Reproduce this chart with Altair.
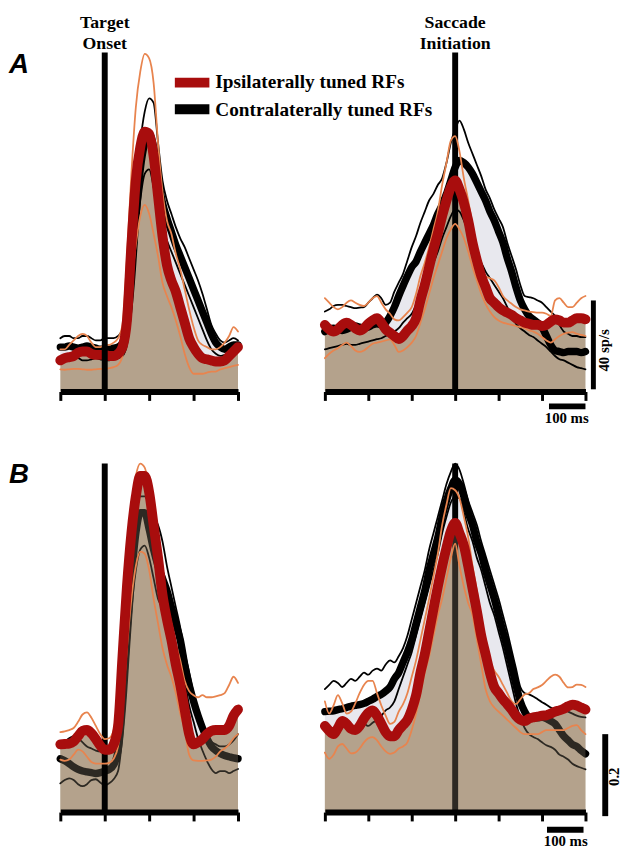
import altair as alt
import pandas as pd

# ---------------- data ----------------
T_ONSET = list(range(-100, 301, 10))   # ms from target onset
T_SACC = list(range(-300, 301, 10))    # ms from saccade initiation

# Panel A, target onset (sp/s)
A_ON_IPSI = [14, 15, 15.5, 16, 17.5, 18, 18, 17, 16.5, 16.5, 16.5, 16, 16, 17, 20, 32, 66, 95, 110, 117, 116,
             106, 88, 70, 57, 50, 45, 38, 31, 24, 20, 17, 15, 14.5, 14, 13.5, 13.5, 14, 16, 18, 20]
A_ON_IPSI_HI = [19, 19, 21, 23, 25, 26, 25, 22, 20, 20, 21, 21, 22, 24, 30, 60, 98, 128, 144, 152, 150,
                139, 112, 90, 77, 71, 62, 55, 46, 37, 29, 23, 21, 20, 19, 19, 20, 22, 25, 29, 27]
A_ON_IPSI_LO = [10, 9.8, 10, 10.2, 10.2, 10, 9.8, 9.8, 10, 10.2, 10, 10.5, 11, 12, 16, 28, 48, 66, 79, 84, 80,
                71, 61, 49, 43, 38, 32, 25, 17, 11, 8, 8, 8, 8.5, 9, 9, 10, 10.5, 11, 11.5, 12]
A_ON_CON = [20, 20, 20.5, 20, 19.5, 20, 20.5, 20, 19.5, 19, 19, 19, 19.5, 20, 22, 30, 50, 78, 100, 112, 116,
            110, 96, 85, 78, 72, 66, 61, 56, 51, 46, 41, 36, 31, 26, 22, 20, 19, 20, 21, 21]
A_ON_CON_HI = [24, 25, 25, 24, 24, 25, 25, 24, 23, 23, 24, 24, 24, 25, 28, 40, 62, 90, 112, 126, 132,
               130, 112, 95, 86, 80, 74, 69, 65, 60, 55, 50, 44, 37, 30, 26, 23, 22, 23, 24, 23]
A_ON_CON_LO = [15, 14, 14.5, 15, 15, 14, 14, 14.5, 15, 14.5, 14, 14, 14.5, 15, 16, 21, 38, 64, 86, 98, 100,
               92, 80, 74, 68, 63, 58, 53, 48, 43, 38, 33, 28, 23, 19, 17, 16, 16.5, 17, 18, 18]

# Panel A, saccade initiation (sp/s)
A_SA_IPSI = [30, 28, 27, 28, 30, 31, 30, 28.5, 27.5, 28.5,
             30.5, 32, 33, 31, 28, 26.5, 25, 23.6, 25, 27.5,
             29.5, 33, 41, 48, 56, 64, 71, 79, 86, 92,
             95,
             91, 85, 77, 67, 59, 52, 47, 42, 40, 38,
             36.5, 35.5, 34.5, 33, 32, 31, 30.5, 30, 30, 29.5,
             30, 31.5, 32.5, 32, 31, 31, 32, 33, 33, 32.5]
A_SA_IPSI_HI = [42, 40, 38, 37, 38, 40, 41, 40, 39, 38.5,
                40, 42, 43, 40, 37, 35, 32.5, 32, 33.5, 35.5,
                38, 44, 52, 58, 65, 73, 81, 93, 103, 113,
                115,
                108, 96, 86, 75, 64, 56, 52, 51, 50, 47,
                43, 41, 39.5, 38, 37, 36.5, 36, 35.8, 35.5, 35.5,
                35, 34, 41, 42, 40, 38, 38, 40, 42, 43]
A_SA_IPSI_LO = [15, 17, 18.5, 19.5, 21, 22, 20.5, 18.5, 17.8, 18.5,
                20, 21.5, 22, 22.5, 23, 23.5, 21, 17.8, 18.5, 20,
                22, 25, 31, 37, 44, 51, 57, 63, 69, 73,
                75.5,
                73, 69, 63, 56, 50, 44, 39.5, 36, 33.5, 32,
                31, 30.5, 30, 29.5, 29, 28.5, 27.5, 27, 26, 24.5,
                23, 22, 23.5, 25, 26, 26.5, 26.7, 26, 25.5, 25]
A_SA_CON = [27, 28, 28.5, 28, 27.5, 28, 29, 29.5, 29, 28.5,
            29, 30, 30.5, 30, 31, 34, 38, 43, 47.6, 52,
            56, 58.5, 63, 67, 71, 75, 80, 84, 89, 95,
            101,
            104, 103, 101, 98, 94, 90, 86, 81, 77, 72,
            67, 60, 54, 47, 41, 37, 34, 32.5, 31, 29,
            25, 21, 18.5, 18, 17.5, 18, 18, 18, 17.5, 18]
A_SA_CON_HI = [36, 37, 38.5, 39, 39, 38.5, 38, 37.5, 37.8, 38,
               40, 42, 43.6, 42, 39, 40, 45, 49, 53, 59,
               65, 70, 76, 81, 86, 89, 93, 96, 103, 112,
               118,
               122, 118, 112, 107, 102, 97, 91, 87, 82, 78,
               74, 67, 61, 55, 48, 43, 42.5, 42, 41, 40,
               38, 36, 34, 30, 27, 26, 25, 25, 24.5, 24.5]
A_SA_CON_LO = [19, 19.5, 20, 20.5, 21, 21.5, 21, 21, 21.5, 22,
               22.5, 23, 23.6, 24, 25, 26, 27, 28.5, 31, 33,
               35, 39, 44, 48, 53, 58, 63, 69, 74, 79,
               82,
               81, 77, 72, 67, 62, 58, 54, 51, 48, 45,
               42, 38, 34, 30.5, 28.5, 27, 25.5, 24.5, 23, 21.5,
               20, 18, 16, 14.5, 14, 13, 12, 11, 10.5, 10]

# Panel B, target onset (normalized)
B_ON_IPSI = [0.165, 0.166, 0.167, 0.172, 0.185, 0.198, 0.2, 0.192, 0.178, 0.162,
             0.152,
             0.152, 0.165, 0.21, 0.38, 0.55, 0.68, 0.77, 0.82, 0.82, 0.78,
             0.7, 0.62, 0.53, 0.47, 0.42, 0.36, 0.31, 0.25, 0.19, 0.165,
             0.17, 0.178, 0.19, 0.198, 0.2, 0.2, 0.2, 0.21, 0.235, 0.25]
B_ON_IPSI_HI = [0.195, 0.197, 0.2, 0.205, 0.22, 0.238, 0.243, 0.23, 0.21, 0.19,
                0.178,
                0.18, 0.2, 0.28, 0.45, 0.62, 0.74, 0.82, 0.85, 0.84, 0.79,
                0.72, 0.64, 0.57, 0.51, 0.46, 0.41, 0.37, 0.32, 0.295, 0.285,
                0.28, 0.285, 0.28, 0.28, 0.282, 0.285, 0.29, 0.31, 0.33, 0.315]
B_ON_IPSI_LO = [0.128, 0.125, 0.128, 0.14, 0.152, 0.148, 0.135, 0.122, 0.118, 0.118,
                0.118,
                0.12, 0.13, 0.16, 0.26, 0.4, 0.52, 0.6, 0.635, 0.63, 0.59,
                0.52, 0.46, 0.4, 0.36, 0.33, 0.29, 0.24, 0.2, 0.14, 0.126,
                0.125, 0.125, 0.126, 0.128, 0.135, 0.148, 0.155, 0.165, 0.18, 0.19]
B_ON_CON = [0.13, 0.125, 0.118, 0.11, 0.104, 0.1, 0.098, 0.096, 0.094, 0.096,
            0.1,
            0.104, 0.115, 0.15, 0.26, 0.42, 0.57, 0.68, 0.73, 0.73, 0.69,
            0.64, 0.6, 0.57, 0.54, 0.5, 0.46, 0.42, 0.36, 0.31, 0.27,
            0.235, 0.205, 0.18, 0.16, 0.15, 0.143, 0.138, 0.135, 0.132, 0.13]
B_ON_CON_HI = [0.17, 0.172, 0.18, 0.185, 0.18, 0.17, 0.16, 0.155, 0.15, 0.148,
               0.15,
               0.155, 0.17, 0.21, 0.33, 0.5, 0.64, 0.74, 0.77, 0.77, 0.75,
               0.72, 0.7, 0.66, 0.6, 0.55, 0.5, 0.45, 0.39, 0.34, 0.29,
               0.25, 0.22, 0.19, 0.172, 0.165, 0.16, 0.16, 0.165, 0.175, 0.19]
B_ON_CON_LO = [0.07, 0.078, 0.082, 0.078, 0.068, 0.063, 0.068, 0.078, 0.08, 0.072,
               0.065,
               0.07, 0.08, 0.1, 0.19, 0.34, 0.49, 0.59, 0.64, 0.65, 0.62,
               0.57, 0.52, 0.5, 0.48, 0.45, 0.41, 0.37, 0.32, 0.26, 0.22,
               0.18, 0.15, 0.125, 0.105, 0.095, 0.1, 0.1, 0.095, 0.1, 0.105]

# Panel B, saccade initiation (normalized)
B_SA_IPSI = [0.21, 0.198, 0.19, 0.205, 0.222, 0.215, 0.203, 0.2, 0.21, 0.228,
             0.242, 0.248, 0.235, 0.215, 0.195, 0.185, 0.185, 0.2, 0.212, 0.225,
             0.25, 0.285, 0.34, 0.385, 0.44, 0.495, 0.55, 0.6, 0.645, 0.685,
             0.705,
             0.68, 0.65, 0.6, 0.545, 0.49, 0.43, 0.385, 0.34, 0.305, 0.29,
             0.275, 0.263, 0.25, 0.235, 0.225, 0.222, 0.228, 0.231, 0.233, 0.235,
             0.236, 0.24, 0.245, 0.248, 0.252, 0.258, 0.262, 0.26, 0.255, 0.25]
B_SA_IPSI_HI = [0.27, 0.24, 0.26, 0.285, 0.265, 0.24, 0.245, 0.265, 0.29, 0.31,
                0.32, 0.32, 0.29, 0.26, 0.235, 0.215, 0.22, 0.245, 0.263, 0.29,
                0.33, 0.37, 0.42, 0.47, 0.52, 0.575, 0.63, 0.7, 0.75, 0.79,
                0.785,
                0.765, 0.72, 0.67, 0.6, 0.54, 0.47, 0.42, 0.37, 0.345, 0.33,
                0.31, 0.29, 0.27, 0.263, 0.275, 0.287, 0.29, 0.3, 0.304, 0.31,
                0.32, 0.33, 0.335, 0.33, 0.315, 0.304, 0.305, 0.311, 0.31, 0.305]
B_SA_IPSI_LO = [0.145, 0.13, 0.14, 0.16, 0.166, 0.155, 0.143, 0.145, 0.155, 0.17,
                0.18, 0.183, 0.175, 0.16, 0.148, 0.142, 0.145, 0.155, 0.16, 0.17,
                0.2, 0.24, 0.29, 0.34, 0.38, 0.43, 0.48, 0.52, 0.57, 0.62,
                0.655,
                0.6, 0.55, 0.51, 0.48, 0.42, 0.36, 0.3, 0.27, 0.255, 0.245,
                0.235, 0.225, 0.215, 0.205, 0.195, 0.19, 0.19, 0.19, 0.19, 0.195,
                0.2, 0.2, 0.2, 0.2, 0.2, 0.205, 0.21, 0.212, 0.2, 0.19]
B_SA_CON = [0.245, 0.246, 0.247, 0.25, 0.252, 0.255, 0.258, 0.26, 0.262, 0.265,
            0.27, 0.275, 0.282, 0.287, 0.295, 0.305, 0.325, 0.34, 0.365, 0.39,
            0.42, 0.46, 0.5, 0.54, 0.59, 0.63, 0.67, 0.72, 0.76, 0.79,
            0.81,
            0.8, 0.77, 0.73, 0.7, 0.66, 0.63, 0.59, 0.555, 0.52, 0.48,
            0.44, 0.4, 0.355, 0.31, 0.27, 0.245, 0.232, 0.23, 0.23, 0.231,
            0.228, 0.222, 0.215, 0.2, 0.185, 0.175, 0.165, 0.16, 0.15, 0.142]
B_SA_CON_HI = [0.3, 0.31, 0.32, 0.315, 0.305, 0.315, 0.325, 0.32, 0.33, 0.34,
               0.335, 0.345, 0.35, 0.345, 0.36, 0.37, 0.365, 0.38, 0.4, 0.43,
               0.47, 0.51, 0.55, 0.59, 0.64, 0.68, 0.72, 0.76, 0.8, 0.83,
               0.85,
               0.835, 0.8, 0.76, 0.73, 0.7, 0.66, 0.625, 0.59, 0.555, 0.52,
               0.48, 0.44, 0.395, 0.35, 0.305, 0.29, 0.287, 0.282, 0.275, 0.268,
               0.262, 0.255, 0.25, 0.248, 0.25, 0.245, 0.24, 0.235, 0.232, 0.231]
B_SA_CON_LO = [0.2, 0.198, 0.2, 0.205, 0.21, 0.205, 0.2, 0.205, 0.212, 0.215,
               0.21, 0.218, 0.224, 0.235, 0.248, 0.255, 0.27, 0.3, 0.33, 0.36,
               0.39, 0.43, 0.47, 0.51, 0.55, 0.59, 0.63, 0.68, 0.72, 0.755,
               0.77,
               0.765, 0.73, 0.69, 0.66, 0.62, 0.59, 0.55, 0.51, 0.48, 0.44,
               0.4, 0.355, 0.31, 0.265, 0.23, 0.205, 0.19, 0.183, 0.178, 0.17,
               0.163, 0.159, 0.152, 0.14, 0.135, 0.128, 0.118, 0.112, 0.108, 0.104]

TICKS_ONSET = [-100, 0, 100, 200, 300]
TICKS_SACC = [-300, -200, -100, 0, 100, 200, 300]

# ---------------- style ----------------
RED = "#A80D0D"
ORANGE = "#E8844E"
TAN = "#B4A28C"
GRAY = "#E8E8EE"
SERIF = "Liberation Serif"
SANS = "Liberation Sans"

ONE = pd.DataFrame({"k": [0]})


def panel(t, ipsi, ipsi_hi, ipsi_lo, con, con_hi, con_lo, xdom, ydom, w, h, ticks,
          vtop, mode, vline_over, extras):
    df = pd.DataFrame({"t": t, "ipsi": ipsi, "ipsi_hi": ipsi_hi, "ipsi_lo": ipsi_lo,
                       "con": con, "con_hi": con_hi, "con_lo": con_lo})
    xs = alt.Scale(domain=xdom, nice=False, zero=False)
    ys = alt.Scale(domain=ydom, nice=False, zero=False)
    xax = alt.Axis(values=ticks, labels=False, title=None, grid=False, domainWidth=6,
                   domainColor="black", tickColor="black", tickWidth=3, tickSize=9,
                   zindex=1, domainCap="butt")
    X = alt.X("t:Q", scale=xs, axis=xax, title=None)

    def Y(f):
        return alt.Y(f"{f}:Q", scale=ys, axis=None, title=None)

    def XD(v):
        return alt.XDatum(v, scale=xs, axis=xax, title=None, type="quantitative")

    def YD(v):
        return alt.YDatum(v, scale=ys, axis=None, title=None, type="quantitative")

    base = alt.Chart(df)

    def line(f, color, width):
        return base.mark_line(color=color, strokeWidth=width, interpolate="monotone",
                              strokeCap="round", strokeJoin="round").encode(x=X, y=Y(f))

    # light shading between the two population means
    gray = base.mark_area(color=GRAY, interpolate="monotone").encode(
        x=X, y=Y("con"), y2=alt.Y2("ipsi:Q"))
    tan = base.mark_area(color=TAN, interpolate="monotone").encode(
        x=X, y=Y("ipsi"), y2=alt.Y2Datum(0))
    tan_over = base.mark_area(color=TAN, opacity=0.25, interpolate="monotone").encode(
        x=X, y=Y("ipsi"), y2=alt.Y2Datum(0))
    vline = alt.Chart(ONE).mark_rule(color="black", strokeWidth=6, strokeCap="butt").encode(
        x=XD(0), y=YD(0), y2=alt.Y2Datum(vtop))
    contra_lines = [line("con_hi", "black", 1.8), line("con_lo", "black", 1.8),
                    line("con", "black", 7.5)]
    ipsi_lines = [line("ipsi_hi", ORANGE, 1.8), line("ipsi_lo", ORANGE, 1.8),
                  line("ipsi", RED, 10)]

    layers = [gray, tan]
    if mode == "A":
        layers += contra_lines
        if not vline_over:
            layers.append(vline)
        layers += ipsi_lines
        if vline_over:
            layers.append(vline)
    else:
        layers += contra_lines
        if not vline_over:
            layers.append(vline)
        layers.append(tan_over)
        if vline_over:
            layers.append(vline)
        layers += ipsi_lines

    for e in extras:
        kind = e[0]
        if kind == "text":
            _, tx, vy, label, style = e
            layers.append(alt.Chart(ONE).mark_text(text=label, **style).encode(
                x=XD(tx), y=YD(vy)))
        elif kind == "hbar":
            _, t1, t2, vy, color, sw = e
            layers.append(alt.Chart(ONE).mark_rule(color=color, strokeWidth=sw,
                                                   strokeCap="butt").encode(
                x=XD(t1), x2=alt.X2Datum(t2), y=YD(vy)))
        elif kind == "vbar":
            _, tx, v1, v2, color, sw = e
            layers.append(alt.Chart(ONE).mark_rule(color=color, strokeWidth=sw,
                                                   strokeCap="butt").encode(
                x=XD(tx), y=YD(v1), y2=alt.Y2Datum(v2)))
    return alt.layer(*layers).properties(width=w, height=h)


title_style = dict(font=SERIF, fontWeight="bold", fontSize=18, align="center",
                   baseline="alphabetic", color="black")
legend_style = dict(font=SERIF, fontWeight="bold", fontSize=19.5, align="left",
                    baseline="alphabetic", color="black")
letter_style = dict(font=SANS, fontWeight="bold", fontStyle="italic", fontSize=28,
                    align="left", baseline="alphabetic", color="black")
small_style = dict(font=SERIF, fontWeight="bold", fontSize=15, align="center",
                   baseline="alphabetic", color="black")
rot_style = dict(font=SERIF, fontWeight="bold", fontSize=15, align="center",
                 baseline="middle", angle=270, color="black")

A_left = panel(T_ONSET, A_ON_IPSI, A_ON_IPSI_HI, A_ON_IPSI_LO, A_ON_CON, A_ON_CON_HI,
               A_ON_CON_LO, [-100, 300], [0, 160], 180, 360, TICKS_ONSET, 152.6, "A", True,
               [("text", 0, 163.56, "Target", title_style),
                ("text", 0, 154.3, "Onset", title_style),
                ("text", -215.6, 143.56, "A", letter_style),
                ("hbar", 157.8, 235.6, 139.1, RED, 10),
                ("hbar", 157.8, 235.6, 127.1, "black", 10),
                ("text", 248.9, 136.44, "Ipsilaterally tuned RFs", legend_style),
                ("text", 248.9, 124.0, "Contralaterally tuned RFs", legend_style)])

A_right = panel(T_SACC, A_SA_IPSI, A_SA_IPSI_HI, A_SA_IPSI_LO, A_SA_CON, A_SA_CON_HI,
                A_SA_CON_LO, [-300, 300], [0, 160], 264, 360, TICKS_SACC, 152.6, "A", False,
                [("text", 0, 163.56, "Saccade", title_style),
                 ("text", 0, 154.3, "Initiation", title_style),
                 ("vbar", 318.2, 1, 41, "black", 5),
                 ("text", 343.2, 18.5, "40 sp/s", rot_style),
                 ("hbar", 216, 300, -6.7, "black", 6),
                 ("text", 256.8, -14.2, "100 ms", small_style)])

B_left = panel(T_ONSET, B_ON_IPSI, B_ON_IPSI_HI, B_ON_IPSI_LO, B_ON_CON, B_ON_CON_HI,
               B_ON_CON_LO, [-100, 300], [0, 0.85], 180, 353, TICKS_ONSET, 0.85, "B", True,
               [("text", -215.6, 0.8018, "B", letter_style)])

B_right = panel(T_SACC, B_SA_IPSI, B_SA_IPSI_HI, B_SA_IPSI_LO, B_SA_CON, B_SA_CON_HI,
                B_SA_CON_LO, [-300, 300], [0, 0.85], 264, 353, TICKS_SACC, 0.85, "B", False,
                [("vbar", 345.5, -0.01, 0.19, "black", 6),
                 ("text", 365.9, 0.0861, "0.2", rot_style),
                 ("hbar", 211.4, 295.5, -0.0434, "black", 6),
                 ("text", 254.5, -0.0825, "100 ms", small_style)])

chart = alt.concat(A_left, A_right, B_left, B_right, columns=2,
                   spacing=alt.RowColnumber(row=73, column=88), bounds="flush"
                   ).properties(padding=0).configure_view(stroke=None)

chart.save("out.html", embed_options={"renderer": "svg", "actions": False})
